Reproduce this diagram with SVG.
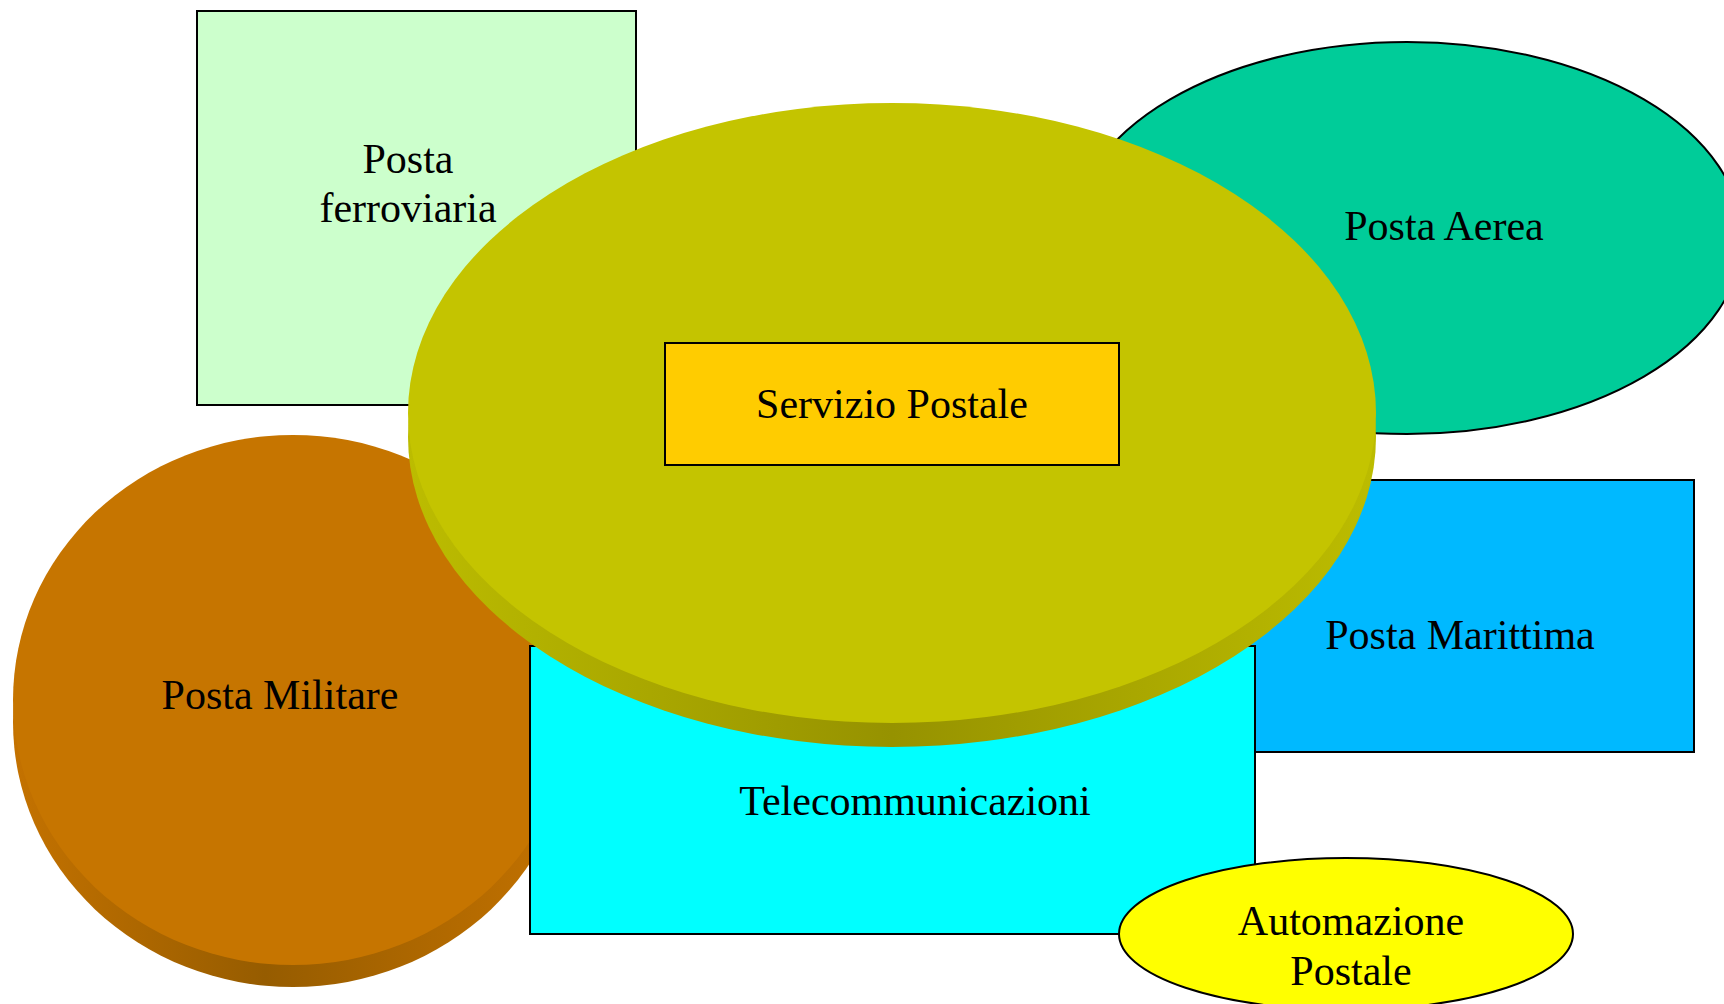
<svg xmlns="http://www.w3.org/2000/svg" width="1724" height="1004" viewBox="0 0 1724 1004">
<defs>
<style>
.lbl{font-family:"Liberation Serif","Times New Roman",serif;font-size:42px;fill:#000;text-anchor:middle}
.box{stroke:#000;stroke-width:2}
</style>
<linearGradient id="gOlive" x1="0" y1="0" x2="1" y2="0">
<stop offset="0" stop-color="#BCBC00"/>
<stop offset="0.5" stop-color="#969200"/>
<stop offset="1" stop-color="#BCBC00"/>
</linearGradient>
<linearGradient id="gBrown" x1="0" y1="0" x2="1" y2="0">
<stop offset="0" stop-color="#C47200"/>
<stop offset="0.45" stop-color="#965C00"/>
<stop offset="1" stop-color="#C47200"/>
</linearGradient>
</defs>
<rect width="1724" height="1004" fill="#FFFFFF"/>
<g id="posta-ferroviaria">
<rect class="box" x="197" y="11" width="439" height="394" fill="#CCFFCC"/>
<text class="lbl" x="408" y="173">Posta</text>
<text class="lbl" x="408" y="222">ferroviaria</text>
</g>
<g id="posta-aerea">
<ellipse class="box" cx="1407" cy="238" rx="335" ry="196" fill="#00CC99"/>
<text class="lbl" x="1444" y="240">Posta Aerea</text>
</g>
<g id="posta-militare">
<ellipse cx="293" cy="722" rx="280" ry="265" fill="url(#gBrown)"/>
<ellipse cx="293" cy="700" rx="280" ry="265" fill="#C67500"/>
<text class="lbl" x="280" y="709">Posta Militare</text>
</g>
<g id="posta-marittima">
<rect class="box" x="1240" y="480" width="454" height="272" fill="#00B9FF"/>
<text class="lbl" x="1460" y="649">Posta Marittima</text>
</g>
<g id="telecommunicazioni">
<rect class="box" x="530" y="646" width="725" height="288" fill="#00FFFF"/>
<text class="lbl" x="915" y="815">Telecommunicazioni</text>
</g>
<g id="servizio-postale">
<ellipse cx="892" cy="437" rx="484" ry="310" fill="url(#gOlive)"/>
<ellipse cx="892" cy="413" rx="484" ry="310" fill="#C4C400"/>
<rect class="box" x="665" y="343" width="454" height="122" fill="#FFCC00"/>
<text class="lbl" x="892" y="418">Servizio Postale</text>
</g>
<g id="automazione-postale">
<ellipse class="box" cx="1346" cy="934" rx="227" ry="76" fill="#FFFF00"/>
<text class="lbl" x="1351" y="935">Automazione</text>
<text class="lbl" x="1351" y="985">Postale</text>
</g>
<g id="connectors"/>
</svg>
